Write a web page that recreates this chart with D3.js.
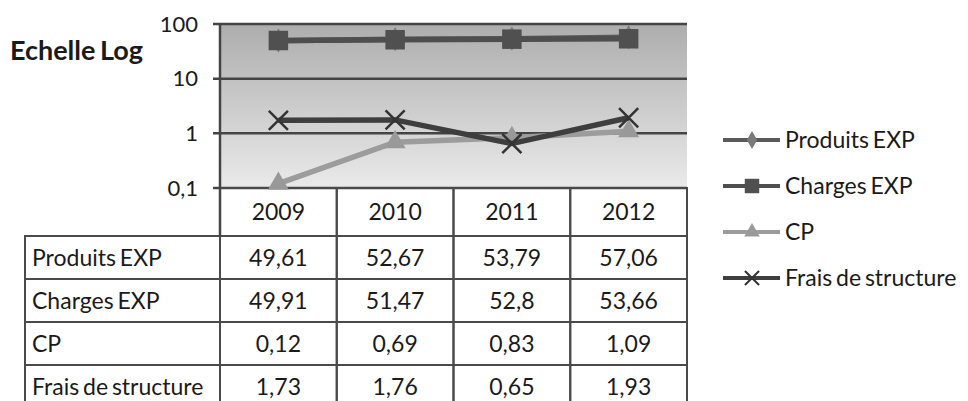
<!DOCTYPE html>
<html>
<head>
<meta charset="utf-8">
<script src="https://cdn.jsdelivr.net/npm/d3@7"></script>
<style>
  body { margin: 0; background: #fff; }
  text { font-family: Lato, "Open Sans", sans-serif; fill: #1a1a1a; }
</style>
</head>
<body>
<div id="chart"></div>
<script>
// data
const years = ["2009", "2010", "2011", "2012"]
const seriesNames = ["Produits EXP", "Charges EXP", "CP", "Frais de structure"]
const produitsExp = [49.61, 52.67, 53.79, 57.06]
const chargesExp = [49.91, 51.47, 52.8, 53.66]
const cp = [0.12, 0.69, 0.83, 1.09]
const fraisStructure = [1.73, 1.76, 0.65, 1.93]
const yTicks = [0.1, 1, 10, 100]
const yTickLabels = ["0,1", "1", "10", "100"]

;(function() {
    const width = 968, height = 401
    const plot = {left: 220, right: 687, top: 24, bottom: 188}
    const tableLeft = 25, headerBottom = 236, rowH = 43
    const fs = 23

    const series = [
        {name: seriesNames[0], values: produitsExp, color: "#5a5a5a", mark: "#7a7a7a", symbol: d3.symbolDiamond, size: 170},
        {name: seriesNames[1], values: chargesExp, color: "#4e4e4e", mark: "#505050", symbol: d3.symbolSquare, size: 380},
        {name: seriesNames[2], values: cp, color: "#9c9c9c", mark: "#999999", symbol: d3.symbolTriangle, size: 190},
        {name: seriesNames[3], values: fraisStructure, color: "#3e3e3e", mark: "#333333", symbol: d3.symbolX, size: 240}
    ]

    const svg = d3.select("#chart")
      .append("svg")
        .attr("width", width)
        .attr("height", height)

    const x = d3.scaleBand()
      .domain(years)
      .range([plot.left, plot.right])
    const y = d3.scaleLog()
      .domain([0.1, 100])
      .range([plot.bottom, plot.top])

    // plot background gradient
    const grad = svg.append("defs").append("linearGradient")
        .attr("id", "bg").attr("x1", 0).attr("y1", 0).attr("x2", 0).attr("y2", 1)
    grad.append("stop").attr("offset", "0%").attr("stop-color", "#adadad")
    grad.append("stop").attr("offset", "100%").attr("stop-color", "#eaeaea")
    svg.append("rect")
        .attr("x", plot.left).attr("y", plot.top)
        .attr("width", plot.right - plot.left).attr("height", plot.bottom - plot.top)
        .attr("fill", "url(#bg)")

    // gridlines + left ticks
    svg.append("g")
        .selectAll("line")
        .data(yTicks)
        .join("line")
          .attr("x1", plot.left - 7).attr("x2", plot.right)
          .attr("y1", d => y(d)).attr("y2", d => y(d))
          .attr("stroke", "#444").attr("stroke-width", 2.5)

    svg.append("g")
        .selectAll("text")
        .data(yTicks)
        .join("text")
          .attr("x", 198)
          .attr("y", d => y(d))
          .attr("dy", "0.35em")
          .attr("text-anchor", "end")
          .attr("font-size", 22)
          .text((d, i) => yTickLabels[i])

    svg.append("text")
        .attr("x", 10).attr("y", 60)
        .attr("font-size", 27)
        .attr("font-weight", "bold")
        .attr("word-spacing", -2)
        .text("Echelle Log")

    // data table
    const rows = d3.scaleBand()
      .domain(seriesNames)
      .range([headerBottom, headerBottom + rowH * seriesNames.length])
    const tbl = svg.append("g")
    const border = {stroke: "#4a4a4a", width: 2}

    // header row borders
    x.domain().forEach(yr => {
        tbl.append("rect")
            .attr("x", x(yr)).attr("y", plot.bottom)
            .attr("width", x.bandwidth()).attr("height", headerBottom - plot.bottom)
            .attr("fill", "none").attr("stroke", border.stroke).attr("stroke-width", border.width)
    })
    tbl.selectAll(".yr")
        .data(years)
        .join("text")
          .attr("x", d => x(d) + x.bandwidth() / 2)
          .attr("y", (plot.bottom + headerBottom) / 2)
          .attr("dy", "0.35em")
          .attr("text-anchor", "middle")
          .attr("font-size", fs)
          .text(d => d)

    series.forEach(s => {
        const ry = rows(s.name)
        tbl.append("rect")
            .attr("x", tableLeft).attr("y", ry)
            .attr("width", plot.left - tableLeft).attr("height", rows.bandwidth())
            .attr("fill", "none").attr("stroke", border.stroke).attr("stroke-width", border.width)
        tbl.append("text")
            .attr("x", tableLeft + 7).attr("y", ry + rows.bandwidth() / 2)
            .attr("dy", "0.35em")
            .attr("font-size", fs)
            .attr("word-spacing", -2)
            .text(s.name)
        s.values.forEach((v, i) => {
            tbl.append("rect")
                .attr("x", x(years[i])).attr("y", ry)
                .attr("width", x.bandwidth()).attr("height", rows.bandwidth())
                .attr("fill", "none").attr("stroke", border.stroke).attr("stroke-width", border.width)
            tbl.append("text")
                .attr("x", x(years[i]) + x.bandwidth() / 2).attr("y", ry + rows.bandwidth() / 2)
                .attr("dy", "0.35em")
                .attr("text-anchor", "middle")
                .attr("font-size", fs)
                .text(String(v).replace(".", ","))
        })
    })

    // y axis line runs down through header row
    svg.append("line")
        .attr("x1", plot.left).attr("x2", plot.left)
        .attr("y1", plot.top).attr("y2", headerBottom)
        .attr("stroke", "#444").attr("stroke-width", 2.5)

    // series lines and markers
    const cx = d => x(d.year) + x.bandwidth() / 2
    const line = d3.line()
        .x(cx)
        .y(d => y(d.value))
    series.forEach(s => {
        const pts = s.values.map((v, i) => ({year: years[i], value: v}))
        svg.append("path")
            .datum(pts)
            .attr("fill", "none")
            .attr("stroke", s.color)
            .attr("stroke-width", 5.5)
            .attr("d", line)
        svg.append("g")
            .selectAll("path")
            .data(pts)
            .join("path")
              .attr("transform", d => "translate(" + cx(d) + "," + y(d.value) + ")")
              .attr("d", d3.symbol().type(s.symbol).size(s.size))
              .attr("fill", s.mark)
              .attr("stroke", s.symbol === d3.symbolX ? s.mark : "none")
              .attr("stroke-width", 2.5)
    })

    // legend
    const legendY = d3.scalePoint()
      .domain(seriesNames)
      .range([140, 278])
    const lg = svg.append("g")
    series.forEach(s => {
        const ly = legendY(s.name)
        lg.append("line")
            .attr("x1", 723).attr("x2", 780)
            .attr("y1", ly).attr("y2", ly)
            .attr("stroke", s.color).attr("stroke-width", 4)
        lg.append("path")
            .attr("transform", "translate(752," + ly + ")")
            .attr("d", d3.symbol().type(s.symbol).size(s.size * 0.55))
            .attr("fill", s.mark)
            .attr("stroke", s.symbol === d3.symbolX ? s.mark : "none")
            .attr("stroke-width", 2)
        lg.append("text")
            .attr("x", 785).attr("y", ly)
            .attr("dy", "0.35em")
            .attr("font-size", fs)
            .attr("word-spacing", -2)
            .text(s.name)
    })
})()
</script>
</body>
</html>
